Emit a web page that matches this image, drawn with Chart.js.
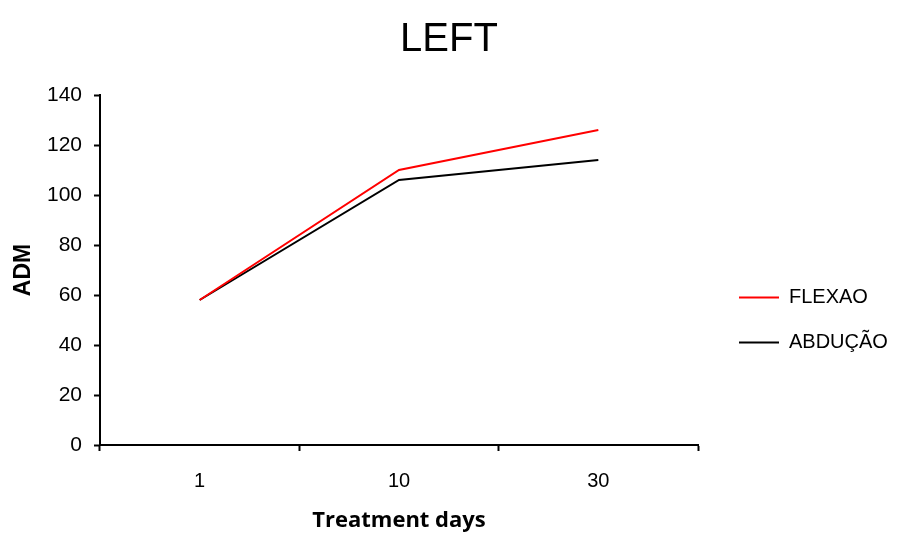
<!DOCTYPE html>
<html>
<head>
<meta charset="utf-8">
<script src="https://cdn.jsdelivr.net/npm/chart.js@4.4.1/dist/chart.umd.min.js"></script>
<style>
  html, body { margin: 0; padding: 0; background: #fff; }
  #wrap { width: 898px; height: 534px; }
</style>
</head>
<body>
<div id="wrap"><canvas id="leftChart" width="898" height="534"></canvas></div>
<script>
const days = ["1", "10", "30"];
const flexao = [58, 110, 126];
const abducao = [58, 106, 114];
const yMin = 0;
const yMax = 140;
const yStep = 20;

const sans = "'Liberation Sans', Arial, sans-serif";

// legend sits in a fixed 200px strip on the right, nudged to where the original has it
const legendSpot = {
  id: "legendSpot",
  afterInit(chart) {
    const legend = chart.legend;
    const fit = legend.fit;
    legend.fit = function () {
      fit.call(this);
      this.width = 200;
    };
    const draw = legend.draw;
    legend.draw = function () {
      const c = this.ctx;
      c.save();
      c.translate(16, 53);
      draw.call(this);
      c.restore();
    };
  },
};

const ctx = document.getElementById("leftChart").getContext("2d");

new Chart(ctx, {
  type: "line",
  data: {
    labels: days,
    datasets: [
      {
        label: "FLEXAO",
        data: flexao,
        borderColor: "#ff0000",
        backgroundColor: "#ff0000",
        borderWidth: 2,
        pointRadius: 0,
        tension: 0,
      },
      {
        label: "ABDUÇÃO",
        data: abducao,
        borderColor: "#000000",
        backgroundColor: "#000000",
        borderWidth: 2,
        pointRadius: 0,
        tension: 0,
      },
    ],
  },
  plugins: [legendSpot],
  options: {
    responsive: false,
    animation: false,
    layout: { padding: 0 },
    plugins: {
      title: {
        display: true,
        text: "LEFT",
        color: "#000",
        font: { family: sans, size: 40, weight: "normal" },
        padding: { top: 16, bottom: 31 },
      },
      legend: {
        position: "right",
        labels: {
          color: "#000",
          font: { family: sans, size: 20 },
          boxWidth: 40,
          boxHeight: 2,
          padding: 25,
          generateLabels: chart => {
            const items = Chart.defaults.plugins.legend.labels.generateLabels(chart);
            items.forEach(it => { it.lineWidth = 0; });
            return items;
          },
        },
      },
      tooltip: { enabled: false },
    },
    scales: {
      x: {
        offset: true,
        grid: {
          offset: true,
          drawOnChartArea: false,
          color: "#000",
          tickLength: 6,
          tickWidth: 2,
        },
        border: { display: true, color: "#000", width: 2 },
        ticks: {
          color: "#000",
          font: { family: sans, size: 20 },
          padding: 18,
        },
        title: {
          display: true,
          text: "Treatment days",
          color: "#000",
          font: { family: "'Open Sans', sans-serif", size: 22, weight: "bold" },
          padding: { top: 0, bottom: 0 },
        },
        afterFit: scale => { scale.height = 89; },
      },
      y: {
        min: yMin,
        max: yMax,
        grid: {
          drawOnChartArea: false,
          color: "#000",
          tickLength: 6,
          tickWidth: 2,
        },
        border: { display: true, color: "#000", width: 2 },
        ticks: {
          stepSize: yStep,
          color: "#000",
          font: { family: sans, size: 21 },
          padding: 12,
        },
        title: {
          display: true,
          text: "ADM",
          color: "#000",
          font: { family: sans, size: 23, weight: "bold" },
          padding: { top: 10, bottom: 0 },
        },
        afterFit: scale => { scale.width = 100; },
      },
    },
  },
});
</script>
</body>
</html>
